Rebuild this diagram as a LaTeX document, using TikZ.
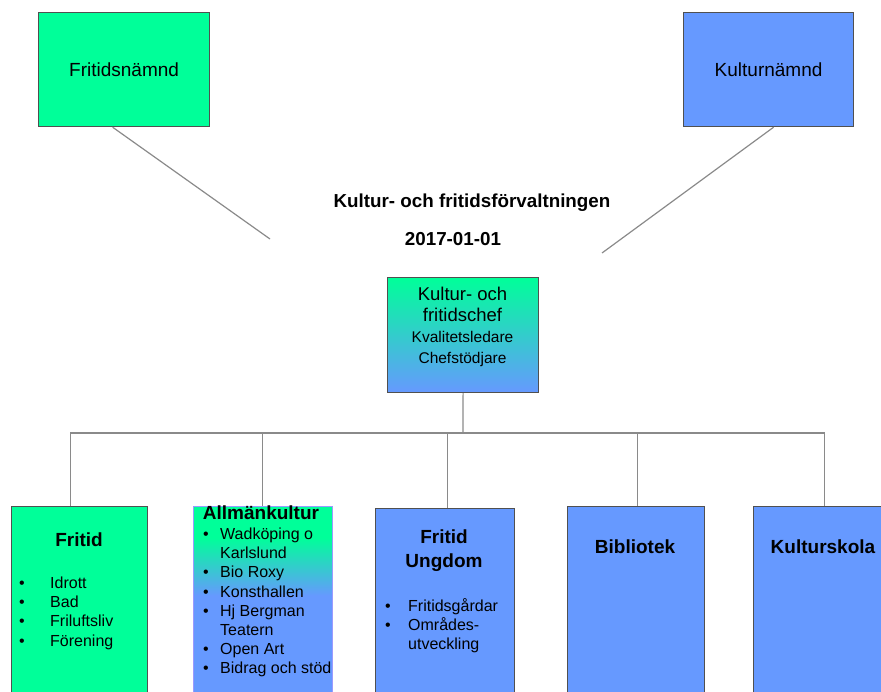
\documentclass[tikz,border=0pt]{standalone}
\usepackage{fontspec}
\setmainfont{Liberation Sans}
\usetikzlibrary{positioning}
\definecolor{kfgreen}{HTML}{00FF99}
\definecolor{kfblue}{HTML}{6699FF}
\definecolor{kfline}{HTML}{8A8A8A}
\definecolor{kfedge}{HTML}{505050}
\definecolor{kflav}{HTML}{9A9AFF}
\pgfdeclareverticalshading{allmshade}{100bp}{color(0bp)=(kfblue); color(52bp)=(kfblue); color(67bp)=(kfgreen); color(100bp)=(kfgreen)}
\tikzset{
    orgbox/.style={draw=kfedge, line width=1.2pt, inner sep=0pt, anchor=north west},
    greenbox/.style={orgbox, fill=kfgreen},
    bluebox/.style={orgbox, fill=kfblue},
    unitbox/.style={minimum height=194pt},
    conn/.style={draw=kfline, line width=1.2pt},
    boardtext/.style={font=\fontsize{19}{22}\selectfont},
    headtext/.style={font=\fontsize{19}{24}\selectfont\bfseries, align=center, inner sep=0pt},
    titletext/.style={font=\fontsize{18.8}{21}\selectfont\bfseries, inner sep=0pt},
    listtext/.style={font=\fontsize{16}{19.2}\selectfont, anchor=base west, inner sep=0pt}
}

\begin{document}
\begin{tikzpicture}[x=1pt, y=-1pt]
    \clip (0,0) rectangle (881,691);
    % boards
    \node[greenbox, minimum width=171pt, minimum height=114pt, boardtext] (fnamnd) at (38,12) {Fritidsnämnd};
    \node[bluebox, minimum width=170pt, minimum height=114pt, boardtext] (knamnd) at (683,12) {Kulturnämnd};
    \coordinate (fnend) at (270,239);
    \coordinate (knend) at (602,253);
    \draw[conn] ([xshift=-11.5pt]fnamnd.south) -- (fnend);
    \draw[conn] ([xshift=5pt]knamnd.south) -- (knend);
    \node[titletext] (title) at (472,203) {Kultur- och fritidsförvaltningen};
    \node[titletext] (datum) at (453,239) {2017-01-01};
    % chef
    \node[orgbox, top color=kfgreen, bottom color=kfblue, minimum width=151pt, minimum height=115pt] (chef) at (387,277) {};
    \node[font=\fontsize{15.5}{21}\selectfont, align=center, inner sep=0pt] (cheftext) at (462.5,327)
        {{\fontsize{18.5}{21}\selectfont Kultur- och}\\{\fontsize{18.5}{21}\selectfont fritidschef}\\Kvalitetsledare\\Chefstödjare};
    % units
    \node[greenbox, unitbox, minimum width=136pt] (fritid) at (11,506) {};
    \node[orgbox, draw=kflav, shade, shading=allmshade, unitbox, minimum width=139pt] (allm) at (193,506) {};
    \node[bluebox, unitbox, minimum width=139pt] (fungdom) at (375,508) {};
    \node[bluebox, unitbox, minimum width=137pt] (bibl) at (567,506) {};
    \node[bluebox, unitbox, minimum width=142pt] (kskola) at (753,506) {};
    \coordinate (bus) at (463,433);
    \draw[conn] (chef.south) -- (bus);
    \foreach \b/\dx in {fritid/-9, allm/-1, fungdom/2, bibl/1, kskola/0}
        \draw[conn] (bus) -| ([xshift=\dx pt]\b.north);
    % unit texts
    \node[headtext] (fritidhead) at (79,540) {Fritid};
    \node[listtext] (fritidlist) at (19,588.5) {\begin{tabular}[t]{@{}p{31pt}@{}l@{}}
        \textbullet & Idrott\\ \textbullet & Bad\\ \textbullet & Friluftsliv\\ \textbullet & Förening\end{tabular}};
    \node[headtext] (allmhead) at (261,513) {Allmänkultur};
    \node[listtext] (allmlist) at (203,539.5) {\begin{tabular}[t]{@{}p{17pt}@{}l@{}}
        \textbullet & Wadköping o\\ & Karlslund\\ \textbullet & Bio Roxy\\ \textbullet & Konsthallen\\
        \textbullet & Hj Bergman\\ & Teatern\\ \textbullet & Open Art\\ \textbullet & Bidrag och stöd\end{tabular}};
    \node[headtext] (fungdomhead) at (444,551) {Fritid\\Ungdom};
    \node[listtext] (fungdomlist) at (385,611.5) {\begin{tabular}[t]{@{}p{23pt}@{}l@{}}
        \textbullet & Fritidsgårdar\\ \textbullet & Områdes-\\ & utveckling\end{tabular}};
    \node[headtext] (biblhead) at (635,547) {Bibliotek};
    \node[headtext] (kskolahead) at (823,547) {Kulturskola};
\end{tikzpicture}
\end{document}
